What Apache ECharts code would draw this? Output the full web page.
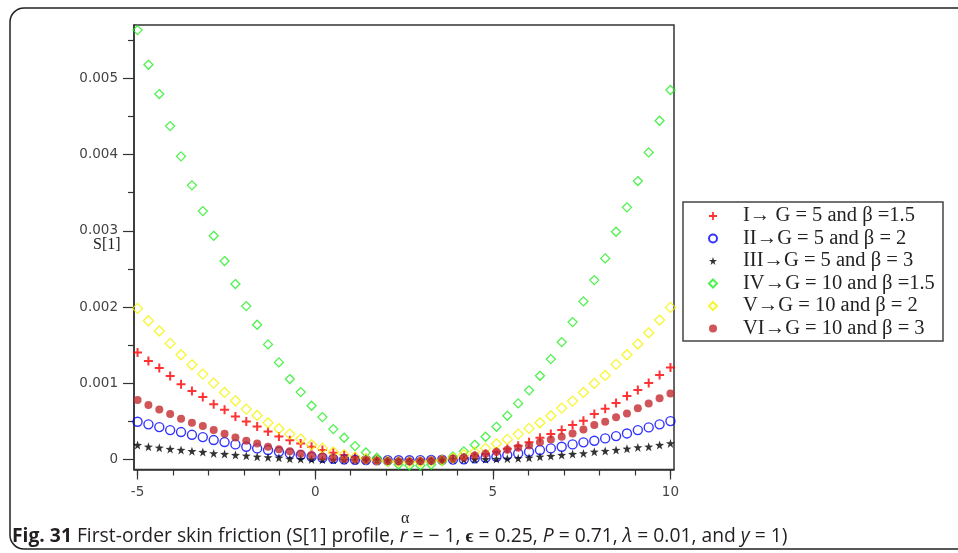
<!DOCTYPE html>
<html>
<head>
<meta charset="utf-8">
<script src="https://cdn.jsdelivr.net/npm/echarts@6/dist/echarts.min.js"></script>
<style>
  html, body { margin: 0; padding: 0; background: #ffffff; }
  #chart { width: 958px; height: 553px; }
</style>
</head>
<body>
<div id="chart"></div>
<script>
// α grid: 50 points from -5 to 10
const alpha = [
  -5.000, -4.694, -4.388, -4.082, -3.776, -3.469, -3.163, -2.857, -2.551, -2.245,
  -1.939, -1.633, -1.327, -1.020, -0.714, -0.408, -0.102, 0.204, 0.510, 0.816,
  1.122, 1.429, 1.735, 2.041, 2.347, 2.653, 2.959, 3.265, 3.571, 3.878,
  4.184, 4.490, 4.796, 5.102, 5.408, 5.714, 6.020, 6.327, 6.633, 6.939,
  7.245, 7.551, 7.857, 8.163, 8.469, 8.776, 9.082, 9.388, 9.694, 10.000
];

// S[1] for G = 5, beta = 1.5
const s1_I = [
  0.001406, 0.001292, 0.001200, 0.001095, 0.000988, 0.000898, 0.000820, 0.000726, 0.000655, 0.000566,
  0.000500, 0.000434, 0.000370, 0.000302, 0.000252, 0.000212, 0.000168, 0.000125, 0.000089, 0.000060,
  0.000038, 0.000018, 0.000003, -0.000008, -0.000016, -0.000020, -0.000019, -0.000013, -0.000004, 0.000010,
  0.000028, 0.000050, 0.000076, 0.000106, 0.000142, 0.000182, 0.000226, 0.000285, 0.000334, 0.000387,
  0.000453, 0.000509, 0.000597, 0.000667, 0.000741, 0.000833, 0.000912, 0.001003, 0.001108, 0.001209
];

// S[1] for G = 5, beta = 2
const s1_II = [
  0.000496, 0.000462, 0.000426, 0.000387, 0.000361, 0.000325, 0.000295, 0.000256, 0.000230, 0.000199,
  0.000168, 0.000147, 0.000125, 0.000102, 0.000081, 0.000059, 0.000037, 0.000024, 0.000010, 0.000002,
  -0.000003, -0.000006, -0.000008, -0.000009, -0.000009, -0.000008, -0.000007, -0.000005, -0.000002, 0.000000,
  0.000003, 0.000016, 0.000024, 0.000037, 0.000059, 0.000081, 0.000102, 0.000125, 0.000147, 0.000168,
  0.000199, 0.000226, 0.000247, 0.000278, 0.000308, 0.000343, 0.000387, 0.000422, 0.000462, 0.000505
];

// S[1] for G = 5, beta = 3
const s1_III = [
  0.000190, 0.000168, 0.000155, 0.000138, 0.000125, 0.000111, 0.000098, 0.000081, 0.000072, 0.000059,
  0.000050, 0.000037, 0.000029, 0.000024, 0.000010, 0.000007, 0.000002, -0.000001, -0.000003, -0.000005,
  -0.000006, -0.000007, -0.000007, -0.000007, -0.000007, -0.000006, -0.000005, -0.000004, -0.000002, 0.000000,
  0.000001, 0.000003, 0.000005, 0.000008, 0.000012, 0.000016, 0.000024, 0.000037, 0.000046, 0.000059,
  0.000072, 0.000081, 0.000102, 0.000112, 0.000125, 0.000142, 0.000160, 0.000168, 0.000190, 0.000212
];

// S[1] for G = 10, beta = 1.5
const s1_IV = [
  0.005633, 0.005178, 0.004794, 0.004374, 0.003977, 0.003597, 0.003259, 0.002935, 0.002604, 0.002302,
  0.002013, 0.001768, 0.001511, 0.001275, 0.001056, 0.000885, 0.000706, 0.000557, 0.000400, 0.000286,
  0.000177, 0.000094, 0.000025, -0.000030, -0.000065, -0.000078, -0.000078, -0.000065, -0.000020, 0.000040,
  0.000108, 0.000194, 0.000299, 0.000430, 0.000574, 0.000737, 0.000908, 0.001099, 0.001318, 0.001541,
  0.001803, 0.002075, 0.002354, 0.002639, 0.002988, 0.003308, 0.003653, 0.004029, 0.004444, 0.004847
];

// S[1] for G = 10, beta = 2
const s1_V = [
  0.001983, 0.001821, 0.001686, 0.001524, 0.001375, 0.001243, 0.001121, 0.001003, 0.000881, 0.000771,
  0.000662, 0.000579, 0.000483, 0.000404, 0.000334, 0.000269, 0.000195, 0.000150, 0.000100, 0.000065,
  0.000032, 0.000008, -0.000010, -0.000020, -0.000027, -0.000030, -0.000028, -0.000020, -0.000005, 0.000020,
  0.000063, 0.000098, 0.000147, 0.000207, 0.000265, 0.000334, 0.000409, 0.000483, 0.000574, 0.000675,
  0.000767, 0.000881, 0.000999, 0.001104, 0.001249, 0.001375, 0.001515, 0.001663, 0.001830, 0.001996
];

// S[1] for G = 10, beta = 3
const s1_VI = [
  0.000780, 0.000715, 0.000658, 0.000597, 0.000535, 0.000483, 0.000439, 0.000387, 0.000339, 0.000291,
  0.000247, 0.000212, 0.000168, 0.000134, 0.000108, 0.000081, 0.000060, 0.000042, 0.000022, 0.000009,
  0.000002, -0.000007, -0.000016, -0.000020, -0.000022, -0.000022, -0.000020, -0.000012, 0.000001, 0.000011,
  0.000028, 0.000053, 0.000076, 0.000102, 0.000129, 0.000155, 0.000186, 0.000226, 0.000265, 0.000299,
  0.000343, 0.000396, 0.000453, 0.000496, 0.000554, 0.000606, 0.000672, 0.000737, 0.000803, 0.000868
];

const seriesNames = [
  'I\u2192 G = 5 and \u03B2 =1.5',
  'II\u2192G = 5 and \u03B2 = 2',
  'III\u2192G = 5 and \u03B2 = 3',
  'IV\u2192G = 10 and \u03B2 =1.5',
  'V\u2192G = 10 and \u03B2 = 2',
  'VI\u2192G = 10 and \u03B2 = 3'
];

const xMajorTicks = [-5, 0, 5, 10];
const xMinorTicks = [-5, -4, -3, -2, -1, 0, 1, 2, 3, 4, 5, 6, 7, 8, 9, 10];
const yMajorTicks = [0, 0.001, 0.002, 0.003, 0.004, 0.005];
const yMinorTicks = [0.0005, 0.0015, 0.0025, 0.0035, 0.0045, 0.0055];

const PLUS = 'path://M3.5,0H5.5V3.5H9V5.5H5.5V9H3.5V5.5H0V3.5H3.5Z';
const STAR = 'path://M50,0L61.8,36.2L100,38.2L69.1,61.8L80.9,100L50,76.4L19.1,100L30.9,61.8L0,38.2L38.2,36.2Z';

function pairs(vals) {
  return alpha.map((a, i) => [a, vals[i]]);
}

const axisColor = '#333';
const tickFont = { fontFamily: 'DejaVu Sans', fontSize: 13.5, color: '#444' };
const capFont = 'Open Sans';
const capSize = 19.3;

const chart = echarts.init(document.getElementById('chart'), null, { renderer: 'canvas' });

chart.setOption({
  animation: false,
  backgroundColor: '#ffffff',
  grid: {
    left: 134, top: 25, right: 284, bottom: 83.5,
    show: true, borderColor: axisColor, borderWidth: 1.5, backgroundColor: 'transparent'
  },
  xAxis: [
    {
      type: 'value', min: -5.1, max: 10.1,
      axisLine: { show: true, onZero: false, lineStyle: { color: axisColor, width: 1.5 } },
      axisTick: { show: true, customValues: xMajorTicks, length: 10, lineStyle: { color: axisColor, width: 1.2 } },
      axisLabel: Object.assign({ customValues: xMajorTicks, margin: 16 }, tickFont),
      splitLine: { show: false }
    },
    {
      type: 'value', min: -5.1, max: 10.1, position: 'bottom',
      axisLine: { show: false, onZero: false },
      axisTick: { show: true, customValues: xMinorTicks, length: 6, lineStyle: { color: axisColor, width: 1.2 } },
      axisLabel: { show: false },
      splitLine: { show: false }
    }
  ],
  yAxis: [
    {
      type: 'value', min: -0.00013, max: 0.0057,
      axisLine: { show: true, onZero: false, lineStyle: { color: axisColor, width: 1.5 } },
      axisTick: { show: true, customValues: yMajorTicks, length: 11, lineStyle: { color: axisColor, width: 1.2 } },
      axisLabel: Object.assign({ customValues: yMajorTicks, margin: 16 }, tickFont),
      splitLine: { show: false }
    },
    {
      type: 'value', min: -0.00013, max: 0.0057, position: 'left',
      axisLine: { show: false, onZero: false },
      axisTick: { show: true, customValues: yMinorTicks, length: 6, lineStyle: { color: axisColor, width: 1.2 } },
      axisLabel: { show: false },
      splitLine: { show: false }
    }
  ],
  legend: {
    orient: 'vertical',
    left: 708, top: 205,
    itemWidth: 8, itemHeight: 8,
    itemGap: 0.5,
    padding: 0,
    selectedMode: false,
    textStyle: {
      fontFamily: 'Liberation Serif', fontSize: 20.5, color: '#222',
      lineHeight: 22, padding: [0, 0, 0, 21]
    },
    data: seriesNames
  },
  title: [
    {
      text: 'S[1]', left: 88, top: 232,
      textStyle: { fontFamily: 'Liberation Serif', fontSize: 16, fontWeight: 'normal', color: '#222' }
    },
    {
      text: '\u03B1', left: 396, top: 506,
      textStyle: { fontFamily: 'Liberation Serif', fontSize: 16, fontWeight: 'normal', color: '#222' }
    },
    {
      text: '{b|Fig. 31} First-order skin friction (S[1] profile, {i|r} = \u2212 1, {bb|\u03F5} = 0.25, {i|P} = 0.71, {i|\u03BB} = 0.01, and {i|y} = 1)',
      left: 12, top: 527,
      padding: 0,
      textStyle: {
        fontFamily: capFont, fontSize: capSize, fontWeight: 'normal', color: '#231f20',
        rich: {
          b: { fontFamily: capFont, fontSize: capSize, fontWeight: 'bold', color: '#231f20' },
          i: { fontFamily: capFont, fontSize: capSize, fontStyle: 'italic', color: '#231f20' },
          bb: { fontFamily: capFont, fontSize: capSize, fontWeight: 'bold', color: '#231f20' }
        }
      }
    }
  ],
  graphic: [
    {
      type: 'rect', z: -10, silent: true,
      shape: { x: 10, y: 8, width: 1200, height: 541, r: 14 },
      style: { fill: 'none', stroke: '#222', lineWidth: 1.5 }
    },
    {
      type: 'rect', z: -5, silent: true,
      shape: { x: 683, y: 202, width: 260, height: 139 },
      style: { fill: '#ffffff', stroke: '#444', lineWidth: 1.5 }
    }
  ],
  series: [
    {
      name: seriesNames[0], type: 'scatter', data: pairs(s1_I),
      symbol: PLUS, symbolSize: 9,
      itemStyle: { color: '#ff0000' }
    },
    {
      name: seriesNames[1], type: 'scatter', data: pairs(s1_II),
      symbol: 'circle', symbolSize: 9,
      itemStyle: { color: 'rgba(0,0,0,0)', borderColor: '#0000ff', borderWidth: 1.4 }
    },
    {
      name: seriesNames[2], type: 'scatter', data: pairs(s1_III),
      symbol: STAR, symbolSize: 9,
      itemStyle: { color: '#000000' }
    },
    {
      name: seriesNames[3], type: 'scatter', data: pairs(s1_IV),
      symbol: 'diamond', symbolSize: 9,
      itemStyle: { color: 'rgba(0,0,0,0)', borderColor: '#22ee22', borderWidth: 1.3 }
    },
    {
      name: seriesNames[4], type: 'scatter', data: pairs(s1_V),
      symbol: 'diamond', symbolSize: 10,
      itemStyle: { color: 'rgba(0,0,0,0)', borderColor: '#f4f400', borderWidth: 1.3 }
    },
    {
      name: seriesNames[5], type: 'scatter', data: pairs(s1_VI),
      symbol: 'circle', symbolSize: 8,
      itemStyle: { color: '#c42a2e' }
    }
  ]
});
</script>
</body>
</html>
